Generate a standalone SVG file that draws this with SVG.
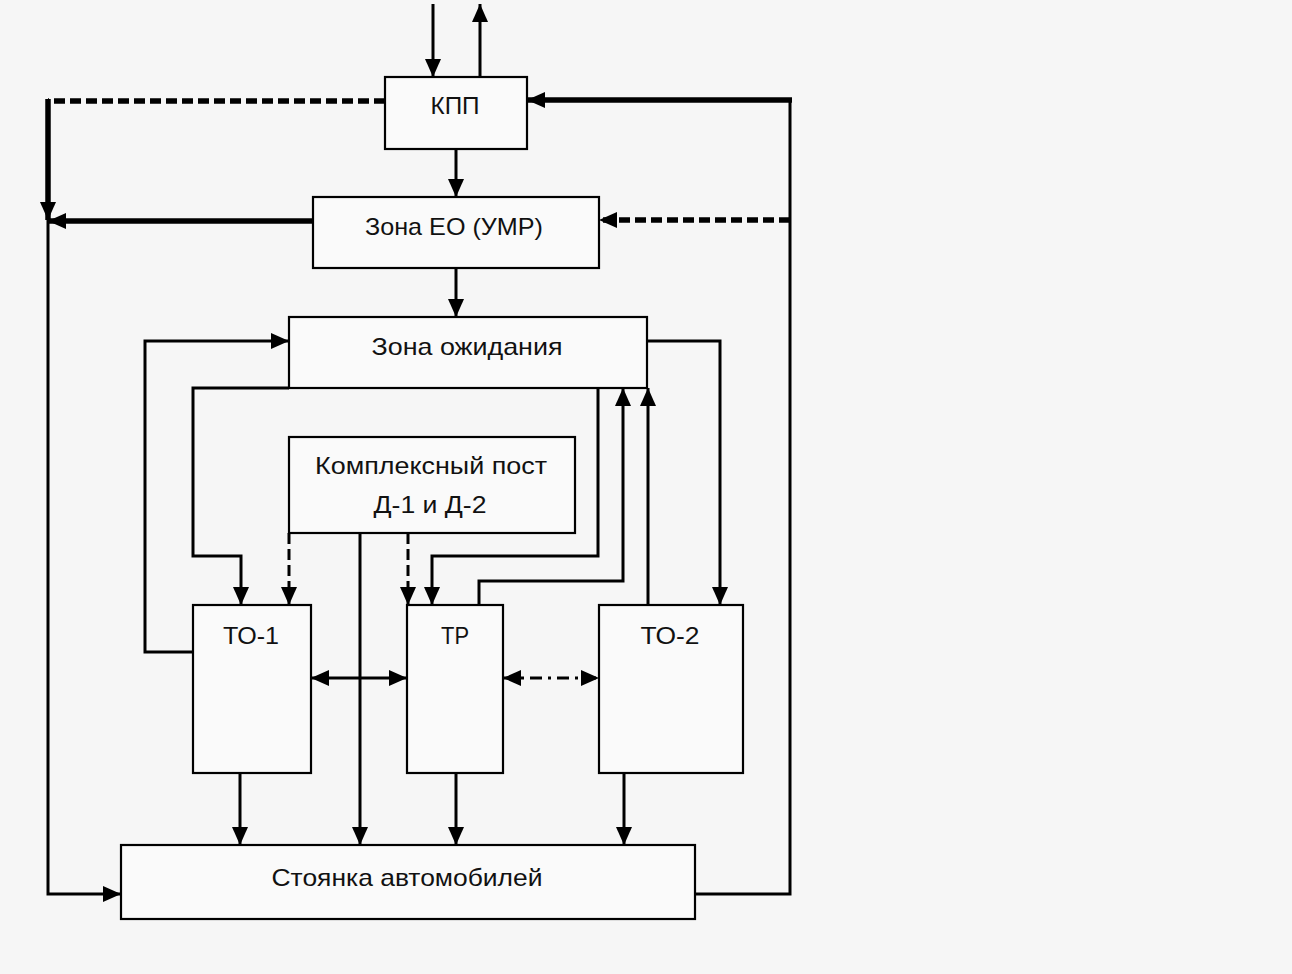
<svg xmlns="http://www.w3.org/2000/svg" width="1292" height="974" viewBox="0 0 1292 974">
<defs>
<marker id="ah" markerUnits="userSpaceOnUse" markerWidth="20" markerHeight="18" refX="18" refY="8" orient="auto-start-reverse"><path d="M0,0 L18,8 L0,16 Z" fill="#000"/></marker>
<style>
.box{fill:#fafafa;stroke:#000;stroke-width:2.2}
.t{font-family:"Liberation Sans",Arial,sans-serif;font-size:24px;fill:#111;text-anchor:middle}
.c{fill:none;stroke:#000;stroke-width:3}
.thick{stroke-width:5.5}
.dash{stroke-dasharray:11,5}
.dd{stroke-dasharray:12,6,3,6}
</style>
</defs>
<rect width="1292" height="974" fill="#f6f6f6"/>
<g id="connectors">
<line class="c" x1="433" y1="4" x2="433" y2="77" marker-end="url(#ah)"/>
<line class="c" x1="480" y1="77" x2="480" y2="4" marker-end="url(#ah)"/>
<line class="c" x1="456" y1="149" x2="456" y2="197" marker-end="url(#ah)"/>
<line class="c" x1="456" y1="268" x2="456" y2="317" marker-end="url(#ah)"/>
<line class="c thick dash" x1="385" y1="101" x2="48" y2="101"/>
<line class="c thick" x1="48" y1="99" x2="48" y2="220" marker-end="url(#ah)"/>
<line class="c thick" x1="313" y1="221" x2="48" y2="221" marker-end="url(#ah)"/>
<polyline class="c" points="48,220 48,894 121,894" marker-end="url(#ah)"/>
<polyline class="c" points="695,894 790,894 790,100"/>
<line class="c thick" x1="792" y1="100" x2="527" y2="100" marker-end="url(#ah)"/>
<line class="c thick dash" x1="790" y1="220" x2="599" y2="220" marker-end="url(#ah)"/>
<polyline class="c" points="193,652 145,652 145,341 289,341" marker-end="url(#ah)"/>
<polyline class="c" points="289,388 193,388 193,556 241,556 241,605" marker-end="url(#ah)"/>
<polyline class="c" points="598,388 598,556 432,556 432,605" marker-end="url(#ah)"/>
<polyline class="c" points="647,341 720,341 720,605" marker-end="url(#ah)"/>
<polyline class="c" points="479,605 479,581 623,581 623,388" marker-end="url(#ah)"/>
<line class="c" x1="648" y1="605" x2="648" y2="388" marker-end="url(#ah)"/>
<line class="c dash" x1="289" y1="533" x2="289" y2="605" marker-end="url(#ah)"/>
<line class="c dash" x1="408" y1="533" x2="408" y2="605" marker-end="url(#ah)"/>
<line class="c" x1="360" y1="533" x2="360" y2="845" marker-end="url(#ah)"/>
<line class="c" stroke-width="4" x1="311" y1="678" x2="407" y2="678" marker-start="url(#ah)" marker-end="url(#ah)"/>
<line class="c dd" stroke-width="4" x1="503" y1="678" x2="599" y2="678" marker-start="url(#ah)" marker-end="url(#ah)"/>
<line class="c" x1="240" y1="773" x2="240" y2="845" marker-end="url(#ah)"/>
<line class="c" x1="456" y1="773" x2="456" y2="845" marker-end="url(#ah)"/>
<line class="c" x1="624" y1="773" x2="624" y2="845" marker-end="url(#ah)"/>
</g>
<g id="kpp"><rect class="box" x="385" y="77" width="142" height="72"/><text class="t" x="455" y="114" textLength="49" lengthAdjust="spacingAndGlyphs">КПП</text></g>
<g id="zona-eo"><rect class="box" x="313" y="197" width="286" height="71"/><text class="t" x="454" y="235" textLength="178" lengthAdjust="spacingAndGlyphs">Зона ЕО (УМР)</text></g>
<g id="zona-ozhidaniya"><rect class="box" x="289" y="317" width="358" height="71"/><text class="t" x="467" y="355" textLength="191" lengthAdjust="spacingAndGlyphs">Зона ожидания</text></g>
<g id="kompleks"><rect class="box" x="289" y="437" width="286" height="96"/><text class="t" x="431" y="474" textLength="232" lengthAdjust="spacingAndGlyphs">Комплексный пост</text><text class="t" x="430" y="513" textLength="113" lengthAdjust="spacingAndGlyphs">Д-1 и Д-2</text></g>
<g id="to1"><rect class="box" x="193" y="605" width="118" height="168"/><text class="t" x="251" y="644" textLength="56" lengthAdjust="spacingAndGlyphs">ТО-1</text></g>
<g id="tr"><rect class="box" x="407" y="605" width="96" height="168"/><text class="t" x="455" y="644" textLength="28" lengthAdjust="spacingAndGlyphs">ТР</text></g>
<g id="to2"><rect class="box" x="599" y="605" width="144" height="168"/><text class="t" x="670" y="644" textLength="59" lengthAdjust="spacingAndGlyphs">ТО-2</text></g>
<g id="stoyanka"><rect class="box" x="121" y="845" width="574" height="74"/><text class="t" x="407" y="886" textLength="271" lengthAdjust="spacingAndGlyphs">Стоянка автомобилей</text></g>
</svg>
